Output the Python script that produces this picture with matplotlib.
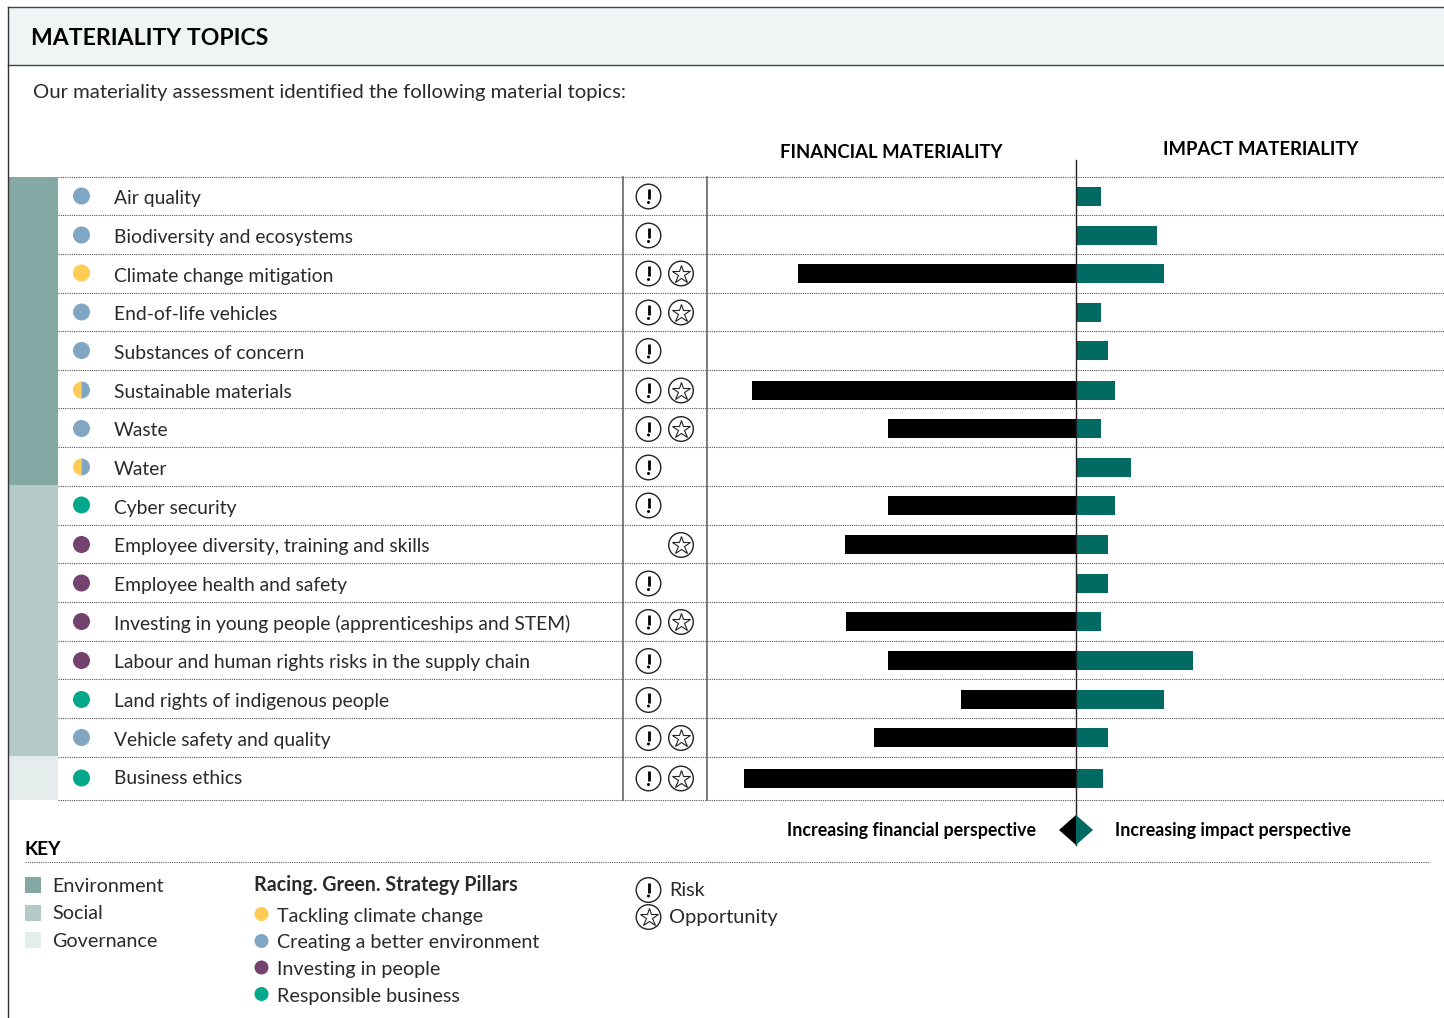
import matplotlib.pyplot as plt
from matplotlib.patches import Circle, Polygon, Rectangle, Wedge

plt.rcParams['font.family'] = ['Lato', 'DejaVu Sans']

# ---- data ----
topics = ['Air quality', 'Biodiversity and ecosystems', 'Climate change mitigation',
          'End-of-life vehicles', 'Substances of concern', 'Sustainable materials',
          'Waste', 'Water', 'Cyber security', 'Employee diversity, training and skills',
          'Employee health and safety', 'Investing in young people (apprenticeships and STEM)',
          'Labour and human rights risks in the supply chain', 'Land rights of indigenous people',
          'Vehicle safety and quality', 'Business ethics']
financial = [0, 0, 278, 0, 0, 324, 188, 0, 188, 231, 0, 230, 188, 115, 202, 332]
impact = [25, 81, 88, 25, 32, 39, 25, 55, 39, 32, 32, 25, 117, 88, 32, 27]
pillar = ['env', 'env', 'climate', 'env', 'env', 'both', 'env', 'both',
          'resp', 'people', 'people', 'people', 'people', 'resp', 'env', 'resp']
risk = [1, 1, 1, 1, 1, 1, 1, 1, 1, 0, 1, 1, 1, 1, 1, 1]
opportunity = [0, 0, 1, 1, 0, 1, 1, 0, 0, 1, 0, 1, 0, 0, 1, 1]

esg_labels = ['Environment', 'Social', 'Governance']
pillar_labels = ['Tackling climate change', 'Creating a better environment',
                 'Investing in people', 'Responsible business']

# ---- colours ----
c_env, c_soc, c_gov = '#84a9a5', '#b4cac6', '#e4edeb'
c_yellow, c_blue, c_purple, c_green = '#fecb55', '#80a6c4', '#74426e', '#02a78c'
c_teal = '#016a62'
c_text = '#2a2a2a'
pillar_col = {'env': c_blue, 'climate': c_yellow, 'people': c_purple, 'resp': c_green}

# ---- layout, in pixels ----
W, H = 1444, 1018
row_lines = [176.5, 215, 253.5, 292.5, 331, 370, 408, 447, 485.5, 524.5, 563, 602, 640.5, 679, 718, 756.5, 799.5]
row_mid = [196, 235, 273, 312, 350.5, 390, 428.5, 467, 505, 544.5, 583, 621.5, 660.5, 699.5, 737.5, 778]
row_base = [204, 243, 282, 320, 359, 398, 436, 475, 514, 552, 591, 630, 668, 707, 746, 784]
zero_x = 1076

fig = plt.figure(figsize=(W / 100, H / 100), dpi=100)
ax = fig.add_axes([0, 0, 1, 1])
ax.set_xlim(0, W)
ax.set_ylim(H, 0)
ax.axis('off')


def txt(x, y, s, size=14.2, weight='normal', **kw):
    ax.text(x, y, s, fontsize=size, fontweight=weight, color=kw.pop('color', c_text), va='baseline', **kw)


def risk_icon(x, y):
    ax.add_patch(Circle((x, y), 12.3, fc='white', ec='#222222', lw=1.0, zorder=4))
    ax.plot([x, x], [y - 7.5, y + 2.5], color='black', lw=2.0, solid_capstyle='butt', zorder=5)
    ax.add_patch(Circle((x, y + 6), 1.5, fc='black', ec='none', zorder=5))


def opp_icon(x, y):
    ax.add_patch(Circle((x, y), 12.3, fc='white', ec='#222222', lw=1.0, zorder=4))
    ax.plot([x], [y], marker='*', ms=13.5, mfc='white', mec='#222222', mew=0.8, zorder=5)


# header band
ax.add_patch(Rectangle((8, 7), W - 8, 58, fc='#eff5f5', ec='none'))
ax.plot([8, W], [7, 7], color='#444444', lw=1.0)
ax.plot([8, W], [65, 65], color='#444444', lw=1.0)
ax.plot([8, 8], [7, H], color='#333333', lw=1.0)
txt(31, 45, 'MATERIALITY TOPICS', size=16.6, weight='bold', color='black')
txt(33, 98, 'Our materiality assessment identified the following material topics:', size=14.6)

txt(780, 158, 'FINANCIAL MATERIALITY', size=13.3, weight='bold', color='black')
txt(1163, 155, 'IMPACT MATERIALITY', size=13.3, weight='bold', color='black')

# ESG side bands
ax.add_patch(Rectangle((9, 176.5), 49, 308.5, fc=c_env, ec='none'))
ax.add_patch(Rectangle((9, 485), 49, 271, fc=c_soc, ec='none'))
ax.add_patch(Rectangle((9, 756), 49, 44, fc=c_gov, ec='none'))

# dotted rules
for y in row_lines:
    ax.plot([58, W], [y, y], color='#555555', lw=0.8, ls=(0, (1, 1)), zorder=1)
for x in [623, 707]:
    ax.plot([x, x], [176.5, 800], color='#666666', lw=1.2, zorder=2)

# bars
ax.barh(row_mid, [-v for v in financial], left=zero_x, height=19, color='black', zorder=3)
ax.barh(row_mid, impact, left=zero_x, height=19, color=c_teal, zorder=3)
ax.plot([zero_x, zero_x], [160, 845], color='#222222', lw=1.0, zorder=6)

# rows
for i, name in enumerate(topics):
    y = row_mid[i]
    txt(113.5, row_base[i], name, size=13.9)
    if pillar[i] == 'both':
        ax.add_patch(Wedge((81.5, y), 8.5, 90, 270, fc=c_yellow, ec='none', zorder=3))
        ax.add_patch(Wedge((81.5, y), 8.5, 270, 90, fc=c_blue, ec='none', zorder=3))
    else:
        ax.add_patch(Circle((81.5, y), 8.5, fc=pillar_col[pillar[i]], ec='none', zorder=3))
    if risk[i]:
        risk_icon(648.5, y + 0.5)
    if opportunity[i]:
        opp_icon(681, y + 0.5)

# direction marker
ax.add_patch(Polygon([(1076, 815), (1059, 830), (1076, 845)], fc='black', ec='none', zorder=7))
ax.add_patch(Polygon([(1076, 815), (1093, 830), (1076, 845)], fc=c_teal, ec='none', zorder=7))
txt(787, 836, 'Increasing financial perspective', size=12.8, weight='bold', color='black')
txt(1115, 836, 'Increasing impact perspective', size=12.8, weight='bold', color='black')

# key
txt(25, 855, 'KEY', size=13.8, weight='bold', color='black')
ax.plot([25, 1430], [862, 862], color='#555555', lw=0.8, ls=(0, (1, 1)))
for lab, col, top, base in zip(esg_labels, [c_env, c_soc, c_gov], [877, 905, 932], [892, 919, 947]):
    ax.add_patch(Rectangle((25, top), 16, 16, fc=col, ec='none'))
    txt(52, base, lab)
txt(254, 891, 'Racing. Green. Strategy Pillars', size=14.1, weight='bold')
for lab, col, y, base in zip(pillar_labels, [c_yellow, c_blue, c_purple, c_green],
                             [914, 941, 967.5, 994], [922, 948, 975, 1002]):
    ax.add_patch(Circle((261.5, y), 7, fc=col, ec='none'))
    txt(277, base, lab)
risk_icon(648.5, 890)
opp_icon(648.5, 917)
txt(669, 896, 'Risk')
txt(669, 923, 'Opportunity', size=14.4)

fig.savefig('out.png', dpi=100)
